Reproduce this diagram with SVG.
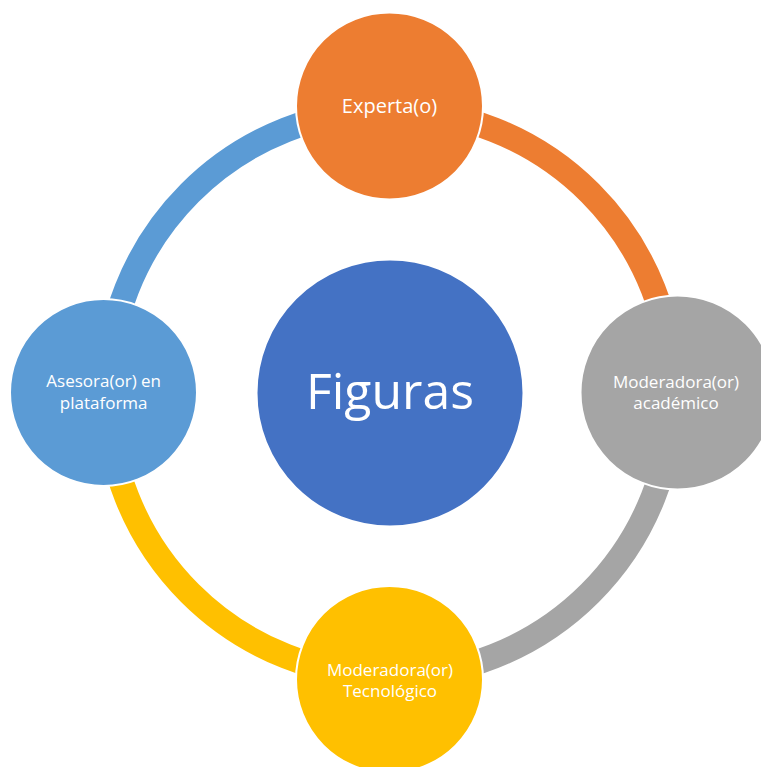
<svg xmlns="http://www.w3.org/2000/svg" width="761" height="767" viewBox="0 0 761 767">
  <style>
    .arc { fill: none; stroke-width: 25; }
    .node { stroke: #FFFFFF; stroke-width: 2; }
    .lbl { font-family: "Open Sans", "Noto Sans", "DejaVu Sans", sans-serif; fill: #FFFFFF; text-anchor: middle; }
    .small { font-size: 17px; }
  </style>
  <rect x="0" y="0" width="761" height="767" fill="#FFFFFF"/>
  <g id="connectors">
    <path class="arc" stroke="#ED7D31" d="M 390 110 A 283 283 0 0 1 673 393"/>
    <path class="arc" stroke="#A5A5A5" d="M 673 393 A 283 283 0 0 1 390 676"/>
    <path class="arc" stroke="#FFC000" d="M 390 676 A 283 283 0 0 1 107 393"/>
    <path class="arc" stroke="#5B9BD5" d="M 107 393 A 283 283 0 0 1 390 110"/>
  </g>
  <g id="center">
    <circle class="node" cx="390" cy="393" r="133.5" fill="#4472C4"/>
    <text class="lbl" x="390" y="409" font-size="50" textLength="168" lengthAdjust="spacingAndGlyphs">Figuras</text>
  </g>
  <g id="experta">
    <circle class="node" cx="389.5" cy="106" r="93.5" fill="#ED7D31"/>
    <text class="lbl" x="389.5" y="113.3" font-size="20">Experta(o)</text>
  </g>
  <g id="moderadora-academico">
    <circle class="node" cx="677.5" cy="392.5" r="97" fill="#A5A5A5"/>
    <text class="lbl small" x="676" y="388">Moderadora(or)</text>
    <text class="lbl small" x="676" y="409.3">académico</text>
  </g>
  <g id="moderadora-tecnologico">
    <circle class="node" cx="389.5" cy="679.5" r="93.5" fill="#FFC000"/>
    <text class="lbl small" x="390" y="675.5">Moderadora(or)</text>
    <text class="lbl small" x="390" y="697">Tecnológico</text>
  </g>
  <g id="asesora">
    <circle class="node" cx="103.5" cy="392.5" r="93.5" fill="#5B9BD5"/>
    <text class="lbl small" x="103.7" y="387">Asesora(or) en</text>
    <text class="lbl small" x="103.7" y="409.3">plataforma</text>
  </g>
</svg>
